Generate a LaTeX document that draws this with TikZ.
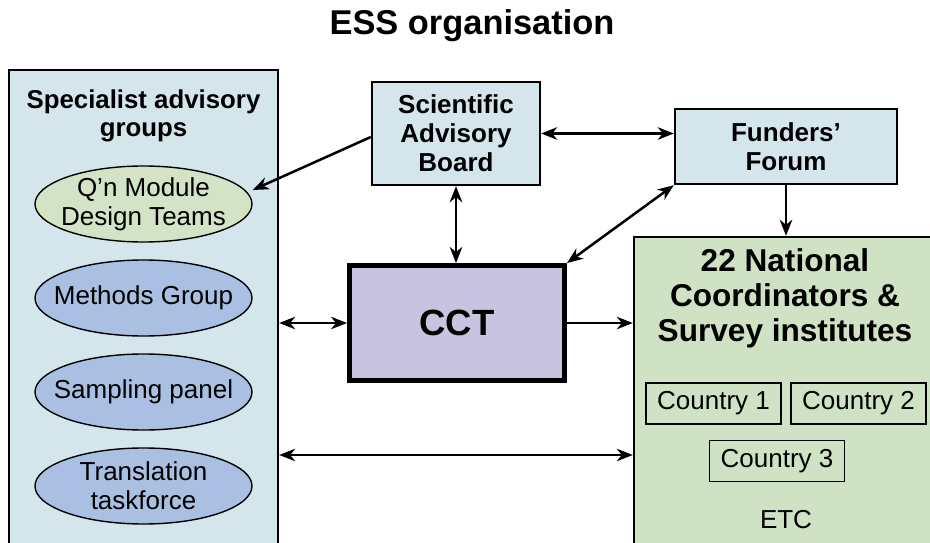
\documentclass[tikz,border=0pt]{standalone}
\usepackage{fontspec}
\setmainfont{Liberation Sans}
\usetikzlibrary{arrows.meta,shapes.geometric}
\definecolor{lblue}{HTML}{D5E5EC}
\definecolor{mblue}{HTML}{A9C0E3}
\definecolor{lgreen}{HTML}{D3E4C6}
\definecolor{bgreen}{HTML}{CFE2C4}
\definecolor{lilac}{HTML}{C8C3DF}
\tikzset{
  tip/.tip={Stealth[length=16pt,width=12.5pt,inset=5pt]},
  arr/.style={line width=2.5pt,-tip},
  darr/.style={line width=2.5pt,tip-tip},
  bigbox/.style={draw,line width=2.4pt,inner sep=0pt},
  smallbox/.style={draw,line width=2.4pt,inner sep=0pt,fill=lblue,align=center,
     font=\fontsize{26}{29}\selectfont\bfseries},
  oval/.style={ellipse,draw,line width=1.4pt,inner sep=0pt,minimum width=217pt,
     minimum height=76pt},
  ovaltext/.style={align=center,inner sep=0pt,font=\fontsize{26}{29}\selectfont},
  cbox/.style={draw,line width=1.4pt,inner sep=0pt,minimum width=135pt,minimum height=41pt,
     font=\fontsize{26}{29}\selectfont},
}
\begin{document}
\begin{tikzpicture}[x=1pt,y=-1pt]
\useasboundingbox (0,0) rectangle (930,543);
\begin{scope}
\clip (0,0) rectangle (930,543);
\node[font=\fontsize{34.4}{38}\selectfont\bfseries] (title) at (472,26) {ESS organisation};
% left box
\node[bigbox,fill=lblue,minimum width=269pt,minimum height=490pt] (left) at (143.5,315) {};
\node[align=center,font=\fontsize{25.8}{28.5}\selectfont\bfseries] (lefthead) at (143.5,116) {Specialist advisory\\groups};
\node[oval,fill=lgreen] (qn) at (143.5,204) {};
\node[ovaltext] (qnt) at (qn) {Q’n Module\\Design Teams};
\node[oval,fill=mblue] (meth) at (143.5,298) {};
\node[ovaltext] (metht) at (meth) {Methods Group};
\node[oval,fill=mblue] (samp) at (143.5,392) {};
\node[ovaltext] (sampt) at (samp) {Sampling panel};
\node[oval,fill=mblue] (trans) at (143.5,486) {};
\node[ovaltext] (transt) at (trans) {Translation\\taskforce};
% top boxes
\node[smallbox,minimum width=168pt,minimum height=103pt] (sab) at (456,133.5) {Scientific\\Advisory\\Board};
\node[smallbox,minimum width=222pt,minimum height=75pt] (ff) at (786,146.5) {Funders’\\Forum};
% CCT
\node[draw,line width=5pt,fill=lilac,minimum width=215pt,minimum height=115pt,
  font=\fontsize{36.5}{40}\selectfont\bfseries] (cct) at (457,323) {CCT};
% green box
\node[bigbox,fill=bgreen,minimum width=311pt,minimum height=323pt] (green) at (789.5,398.5) {};
\node[align=center,font=\fontsize{31.6}{35}\selectfont\bfseries] (greenhead) at (785,298) {22 National\\Coordinators \&\\Survey institutes};
\node[cbox] (c1) at (713.5,403.5) {Country 1};
\node[cbox] (c2) at (858.5,403.5) {Country 2};
\node[cbox] (c3) at (777,461) {Country 3};
\node[font=\fontsize{26}{29}\selectfont] (etc) at (786,520) {ETC};
% connectors
\coordinate (lowrow) at (0,455);
\draw[arr] ([yshift=-3.5pt]sab.west) -- ([yshift=14pt]qn.east);
\draw[darr] (sab.east) -- (sab.east -| ff.west);
\draw[darr] (sab.south) -- (sab.south |- cct.north);
\draw[darr] (cct.north east) -- (ff.south west);
\draw[arr] (ff.south) -- (ff.south |- green.north);
\draw[darr] (left.east |- cct.west) -- (cct.west);
\draw[arr] (cct.east) -- (cct.east -| green.west);
\draw[darr] (left.east |- lowrow) -- (green.west |- lowrow);
\end{scope}
\end{tikzpicture}
\end{document}
